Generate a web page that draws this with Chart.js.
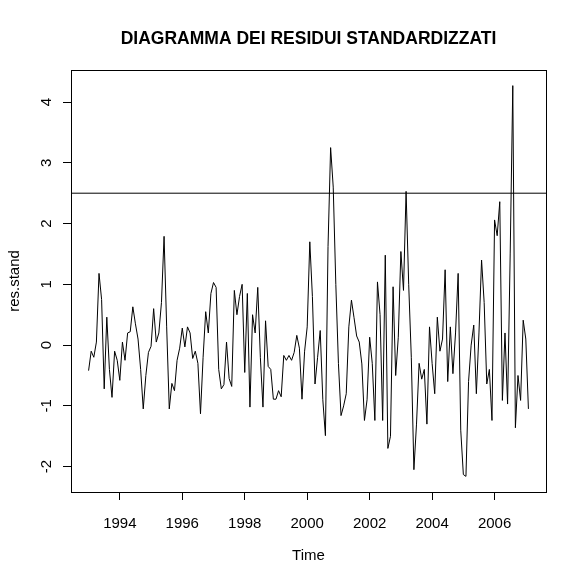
<!DOCTYPE html>
<html><head><meta charset="utf-8">
<script src="https://cdn.jsdelivr.net/npm/chart.js@4.4.1/dist/chart.umd.min.js"></script>
<style>html,body{margin:0;padding:0;background:#fff}</style>
</head><body>
<canvas id="c" width="584" height="584"></canvas>
<script>
const startYear = 1993;
const frequency = 12;
const residuals = [
 -0.42,-0.10,-0.20,0.05,1.18,0.75,-0.72,0.46,-0.40,-0.86,-0.10,-0.25,
 -0.58,0.05,-0.25,0.20,0.22,0.63,0.35,0.10,-0.40,-1.05,-0.50,-0.12,
 -0.02,0.60,0.05,0.20,0.70,1.79,0.30,-1.05,-0.63,-0.75,-0.25,-0.05,
 0.28,-0.03,0.30,0.20,-0.22,-0.10,-0.30,-1.13,-0.20,0.55,0.20,0.85,
 1.03,0.95,-0.40,-0.72,-0.65,0.05,-0.55,-0.68,0.90,0.50,0.80,1.00,
 -0.45,0.85,-1.02,0.50,0.20,0.95,-0.20,-1.02,0.40,-0.35,-0.40,-0.89,
 -0.89,-0.75,-0.85,-0.17,-0.25,-0.17,-0.25,-0.12,0.16,-0.05,-0.89,-0.10,
 0.30,1.70,0.80,-0.64,-0.20,0.24,-0.90,-1.49,1.62,3.25,2.60,1.00,
 -0.30,-1.16,-1.00,-0.80,0.30,0.74,0.45,0.15,0.05,-0.31,-1.24,-0.90,
 0.13,-0.30,-1.24,1.04,0.50,-1.24,1.48,-1.70,-1.50,0.96,-0.50,0.13,
 1.54,0.90,2.53,1.00,-0.20,-2.05,-1.30,-0.30,-0.56,-0.40,-1.30,0.30,
 -0.30,-0.80,0.46,-0.10,0.10,1.24,-0.60,0.30,-0.47,0.20,1.18,-1.40,
 -2.13,-2.16,-0.60,0.00,0.33,-0.80,0.20,1.40,0.70,-0.64,-0.40,-1.24,
 2.06,1.80,2.36,-0.91,0.20,-0.97,1.50,4.27,-1.36,-0.50,-0.91,0.41,
 0.10,-1.05
];
const xTicks = [1994,1996,1998,2000,2002,2004,2006];
const yTicks = [-2,-1,0,1,2,3,4];
const thresholdValue = 2.5;
const chartTitle = "DIAGRAMMA DEI RESIDUI STANDARDIZZATI";
const xAxisTitle = "Time";
const yAxisTitle = "res.stand";

const times = residuals.map((v,i)=>startYear + i/frequency);
const points = residuals.map((v,i)=>({x:times[i], y:v}));
const tMin = times[0], tMax = times[times.length-1];
const xPad = 0.04*(tMax-tMin);
const xMin = tMin - xPad, xMax = tMax + xPad;
const vMin = Math.min(...residuals), vMax = Math.max(...residuals);
const yPad = 0.04*(vMax-vMin);
const yMin = vMin - yPad, yMax = vMax + yPad;

const FONT = "'Liberation Sans', Arial, sans-serif";

const decor = {
  id:'decor',
  afterDraw(chart){
    const ctx = chart.ctx, a = chart.chartArea, ys = chart.scales.y;
    ctx.save();
    ctx.strokeStyle = '#000'; ctx.lineWidth = 1;
    ctx.strokeRect(Math.round(a.left)+0.5, Math.round(a.top)+0.5, Math.round(a.right-a.left), Math.round(a.bottom-a.top));
    ctx.fillStyle = '#000';
    ctx.font = "15px " + FONT;
    ctx.textAlign = 'center'; ctx.textBaseline = 'middle';
    yTicks.forEach(v=>{
      const py = ys.getPixelForValue(v);
      ctx.save(); ctx.translate(47, py); ctx.rotate(-Math.PI/2);
      ctx.fillText(String(v), 0, 0);
      ctx.restore();
    });
    const cx = (a.left+a.right)/2, cy = (a.top+a.bottom)/2;
    ctx.save(); ctx.translate(15, cy); ctx.rotate(-Math.PI/2);
    ctx.fillText(yAxisTitle, 0, 0); ctx.restore();
    ctx.fillText(xAxisTitle, cx, 556);
    ctx.font = "bold 17.5px " + FONT;
    ctx.fillText(chartTitle, cx, 39);
    ctx.restore();
  }
};

new Chart(document.getElementById('c'), {
  type:'line',
  data:{datasets:[
    {data:points, borderColor:'#000', borderWidth:1, pointRadius:0, tension:0, fill:false},
    {data:[{x:xMin,y:thresholdValue},{x:xMax,y:thresholdValue}], borderColor:'#000', borderWidth:1, pointRadius:0, fill:false}
  ]},
  options:{
    responsive:false, animation:false, devicePixelRatio:1,
    layout:{padding:{left:0, top:70, right:38, bottom:0}},
    plugins:{legend:{display:false}, tooltip:{enabled:false}, title:{display:false}},
    scales:{
      x:{type:'linear', min:xMin, max:xMax,
        afterBuildTicks(s){ s.ticks = xTicks.map(v=>({value:v})); },
        afterFit(s){ s.height = 92; },
        grid:{display:true, drawOnChartArea:false, drawTicks:true, tickLength:8, color:'#000', lineWidth:1},
        border:{display:false},
        ticks:{color:'#000', font:{family:FONT, size:15}, padding:15, maxRotation:0, autoSkip:false,
          callback:(v)=>String(v)}
      },
      y:{type:'linear', min:yMin, max:yMax,
        afterBuildTicks(s){ s.ticks = yTicks.map(v=>({value:v})); },
        afterFit(s){ s.width = 71; },
        grid:{display:true, drawOnChartArea:false, drawTicks:true, tickLength:8, color:'#000', lineWidth:1},
        border:{display:false},
        ticks:{display:false}
      }
    }
  },
  plugins:[decor]
});
</script>
</body></html>
